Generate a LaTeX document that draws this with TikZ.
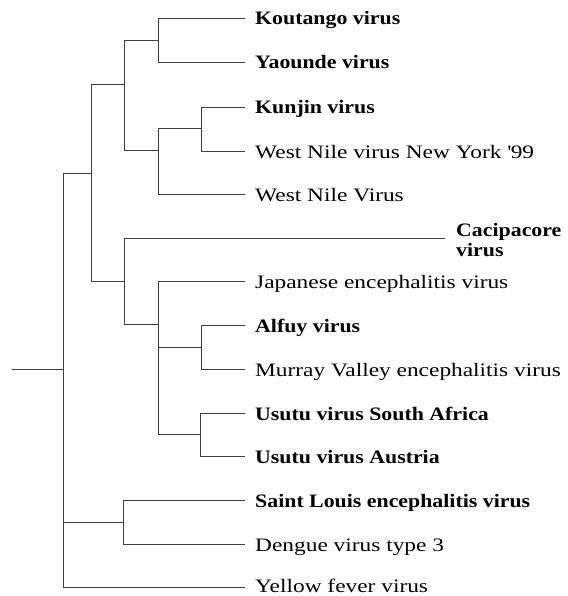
\documentclass[tikz,border=0pt]{standalone}
\usepackage{fontspec}
\setmainfont{Liberation Serif}[FakeStretch=1.23,BoldFeatures={FakeStretch=1.15}]
\begin{document}
\begin{tikzpicture}[x=1pt,y=-1pt,
  branch/.style={draw=black!75,line width=0.9pt},
  lab/.style={anchor=base west,inner sep=0pt,font=\fontsize{19}{21}\selectfont},
  blab/.style={lab,font=\fontsize{19}{21}\selectfont\bfseries}]
\useasboundingbox (0,0) rectangle (567,596);
% tips
\coordinate (t1) at (245,18);
\coordinate (t2) at (245,62);
\coordinate (t3) at (245,107);
\coordinate (t4) at (245,151);
\coordinate (t5) at (245,194);
\coordinate (t6) at (445,238);
\coordinate (t7) at (245,281);
\coordinate (t8) at (245,325);
\coordinate (t9) at (245,369);
\coordinate (t10) at (245,413);
\coordinate (t11) at (245,456);
\coordinate (t12) at (245,500);
\coordinate (t13) at (245,544);
\coordinate (t14) at (245,587);
% internal nodes
\coordinate (nKY) at (158,40);
\coordinate (nKW) at (201,128);
\coordinate (nW) at (158,150);
\coordinate (nA) at (124,84);
\coordinate (nAM) at (201,347);
\coordinate (nU) at (200,434);
\coordinate (nJ) at (158,324);
\coordinate (nC) at (124,281);
\coordinate (nB) at (91,173);
\coordinate (nSD) at (123,522);
\coordinate (root) at (63,369);
\coordinate (stub) at (12,369);
% branches
\draw[branch] (nKY) |- (t1); \draw[branch] (nKY) |- (t2);
\draw[branch] (nKW) |- (t3); \draw[branch] (nKW) |- (t4);
\draw[branch] (nW) |- (nKW); \draw[branch] (nW) |- (t5);
\draw[branch] (nA) |- (nKY); \draw[branch] (nA) |- (nW);
\draw[branch] (nAM) |- (t8); \draw[branch] (nAM) |- (t9);
\draw[branch] (nU) |- (t10); \draw[branch] (nU) |- (t11);
\draw[branch] (nJ) |- (t7); \draw[branch] (nJ) |- (nAM); \draw[branch] (nJ) |- (nU);
\draw[branch] (nC) |- (t6); \draw[branch] (nC) |- (nJ);
\draw[branch] (nB) |- (nA); \draw[branch] (nB) |- (nC);
\draw[branch] (nSD) |- (t12); \draw[branch] (nSD) |- (t13);
\draw[branch] (root) |- (nB); \draw[branch] (root) |- (nSD); \draw[branch] (root) |- (t14);
\draw[branch] (stub) -- (root);
% labels
\node[blab] (l1) at (255,25) {Koutango virus};
\node[blab] (l2) at (255,69) {Yaounde virus};
\node[blab] (l3) at (255,114) {Kunjin virus};
\node[lab] (l4) at (255,158) {West Nile virus New York \textquotesingle 99};
\node[lab] (l5) at (255,201) {West Nile Virus};
\node[blab] (l6a) at (456,236) {Cacipacore};
\node[blab] (l6b) at (456,256) {virus};
\node[lab] (l7) at (255,288) {Japanese encephalitis virus};
\node[blab] (l8) at (255,332) {Alfuy virus};
\node[lab] (l9) at (255,376) {Murray Valley encephalitis virus};
\node[blab] (l10) at (255,420) {Usutu virus South Africa};
\node[blab] (l11) at (255,463) {Usutu virus Austria};
\node[blab] (l12) at (255,507) {Saint Louis encephalitis virus};
\node[lab] (l13) at (255,551) {Dengue virus type 3};
\node[lab] (l14) at (255,592) {Yellow fever virus};
\end{tikzpicture}
\end{document}
